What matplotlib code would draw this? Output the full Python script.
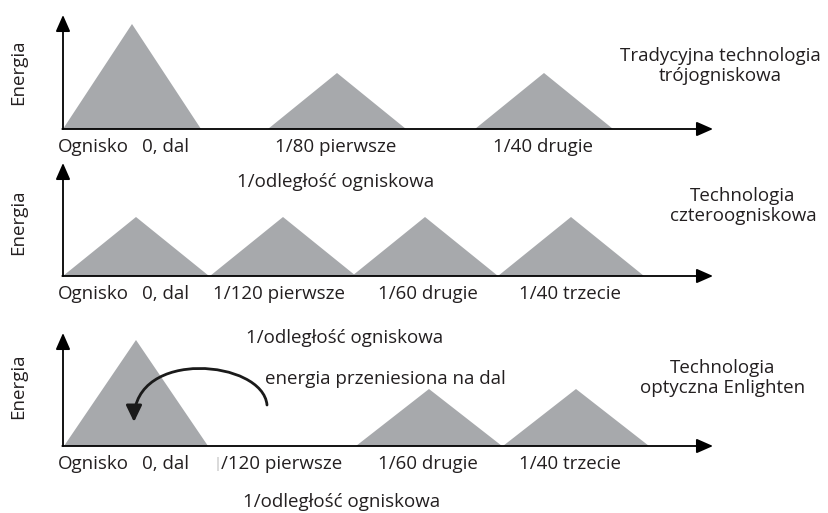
import matplotlib.pyplot as plt
from matplotlib.patches import FancyArrowPatch
from matplotlib.path import Path

plt.rcParams['font.family'] = ['Open Sans', 'DejaVu Sans']

# peak positions / heights / half widths of the energy triangles (one list per panel)
peaks_1 = [69, 274, 481]
heights_1 = [105, 56, 56]
half_1 = [69, 69, 69]

peaks_2 = [73, 220, 362, 508]
heights_2 = [59, 59, 59, 59]
half_2 = [73, 73, 73, 73]

peaks_3 = [73, 366, 513]
heights_3 = [106, 57, 57]
half_3 = [72, 73, 73]

# tick labels under the x axis
labels_1 = ['Ognisko', '0, dal', '1/80 pierwsze', '1/40 drugie']
labels_2 = ['Ognisko', '0, dal', '1/120 pierwsze', '1/60 drugie', '1/40 trzecie']
labels_3 = ['Ognisko', '0, dal', '/120 pierwsze', '1/60 drugie', '1/40 trzecie']
label_x_1 = [30, 103, 273, 480]
label_x_2 = [30, 103, 216, 365, 507]
label_x_3 = [30, 103, 158, 365, 507]

titles = ['Tradycyjna technologia\ntrójogniskowa',
          'Technologia\nczteroogniskowa',
          'Technologia\noptyczna Enlighten']

xlabel = '1/odległość ogniskowa'
ylabel = 'Energia'

grey = '#a7a9ac'
ink = '#231f20'
fs = 13.5

fig = plt.figure(figsize=(8.29, 5.13), dpi=100)
H = 513.0

# (top px, bottom px, baseline px) for each band
bands = [(0, 160, 129), (160, 320, 276), (320, 513, 446)]
panels = [(peaks_1, heights_1, half_1, labels_1, label_x_1),
          (peaks_2, heights_2, half_2, labels_2, label_x_2),
          (peaks_3, heights_3, half_3, labels_3, label_x_3)]
y_tip = [114, 113, 113]
xlab_pos = [(273, -53), (282, -62), (279, -56)]
title_pos = [(657, 63), (680, 70), (660, 68)]
ylab_y = [57, 54, 60]

axes = []
for i, ((top, bot, base), (pk, hh, hw, labs, lx)) in enumerate(zip(bands, panels)):
    ax = fig.add_axes([0, (H - bot) / H, 1, (bot - top) / H])
    ax.set_xlim(-63, 766)
    ax.set_ylim(base - bot, base - top)
    ax.axis('off')

    for p, h, w in zip(pk, hh, hw):
        ax.fill([p - w, p, p + w], [0, h, 0], color=grey, lw=0, clip_on=False)

    # axes with arrows
    ax.annotate('', xy=(0, y_tip[i]), xytext=(0, 0),
                arrowprops=dict(arrowstyle='-|>,head_length=0.5,head_width=0.22',
                                mutation_scale=20, lw=1.3, color='black',
                                shrinkA=0, shrinkB=0))
    ax.annotate('', xy=(650, 0), xytext=(-0.7, 0),
                arrowprops=dict(arrowstyle='-|>,head_length=0.5,head_width=0.22',
                                mutation_scale=20, lw=1.3, color='black',
                                shrinkA=0, shrinkB=0))

    for t, x in zip(labs, lx):
        ha = 'left' if t.startswith('/') else 'center'
        ax.text(x, -18, t, ha=ha, va='center', fontsize=fs, color=ink)

    ax.text(xlab_pos[i][0], xlab_pos[i][1], xlabel, ha='center', va='center',
            fontsize=fs, color=ink)
    ax.text(title_pos[i][0], title_pos[i][1], titles[i], ha='center', va='center',
            fontsize=fs, color=ink, linespacing=1.2)
    ax.text(-45, ylab_y[i], ylabel, rotation=90, ha='center', va='center',
            fontsize=fs, color=ink)
    axes.append(ax)

ax3 = axes[2]
# faint clipped stroke of the "1"
ax3.plot([155, 155], [-25, -11], color='#d4d4d4', lw=1.2, solid_capstyle='butt')
ax3.text(322, 67, 'energia przeniesiona na dal', ha='center', va='center',
         fontsize=fs, color=ink)

# curved arrow: energy moved towards far focus
verts = [(204, 41), (200, 86), (71, 98), (71, 24)]
codes = [Path.MOVETO, Path.CURVE4, Path.CURVE4, Path.CURVE4]
arc = FancyArrowPatch(path=Path(verts, codes),
                      arrowstyle='-|>,head_length=0.5,head_width=0.24',
                      mutation_scale=20, lw=2, color='#1a1a1a')
ax3.add_patch(arc)

fig.savefig('out.png', dpi=100)
